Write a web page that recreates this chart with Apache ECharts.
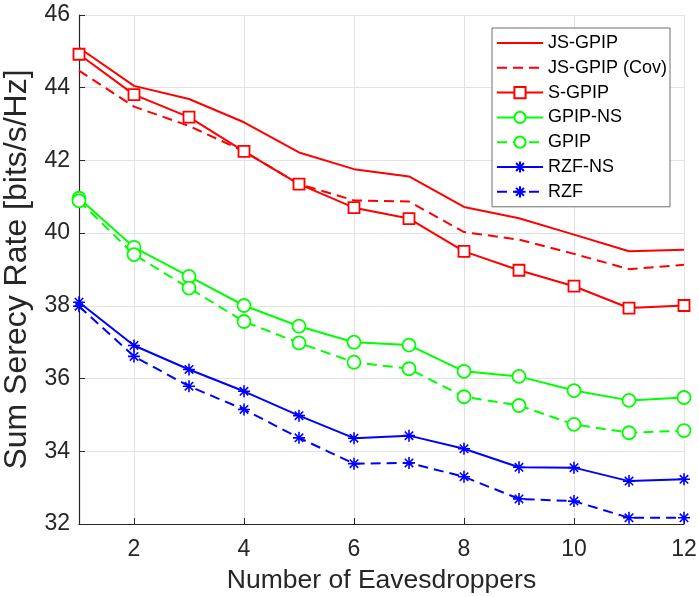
<!DOCTYPE html>
<html>
<head>
<meta charset="utf-8">
<script src="https://cdn.jsdelivr.net/npm/echarts@6/dist/echarts.min.js"></script>
<style>
  html, body { margin: 0; padding: 0; background: #fff; }
  #main { width: 699px; height: 597px; }
</style>
</head>
<body>
<div id="main"></div>
<script>
// number of eavesdroppers
const xValues = [1, 2, 3, 4, 5, 6, 7, 8, 9, 10, 11, 12]
const xTicks = [2, 4, 6, 8, 10, 12]

// sum secrecy rate
const jsGpip    = [45.10, 44.05, 43.69, 43.05, 42.22, 41.76, 41.56, 40.72, 40.41, 39.96, 39.50, 39.54]
const jsGpipCov = [44.47, 43.48, 42.95, 42.25, 41.35, 40.90, 40.87, 40.03, 39.82, 39.43, 39.01, 39.13]
const sGpip     = [44.92, 43.81, 43.19, 42.25, 41.35, 40.70, 40.40, 39.50, 38.98, 38.54, 37.94, 38.01]
const gpipNs    = [40.96, 39.61, 38.81, 38.01, 37.44, 37.00, 36.92, 36.20, 36.06, 35.67, 35.40, 35.48]
const gpip      = [40.89, 39.41, 38.49, 37.57, 36.98, 36.45, 36.27, 35.50, 35.26, 34.74, 34.51, 34.57]
const rzfNs     = [38.10, 36.91, 36.25, 35.65, 34.98, 34.36, 34.43, 34.07, 33.56, 33.55, 33.18, 33.23]
const rzf       = [37.99, 36.61, 35.79, 35.15, 34.37, 33.66, 33.68, 33.30, 32.69, 32.63, 32.17, 32.17]

const RED = '#ff0000'
const GREEN = '#00ff00'
const BLUE = '#0000ff'
const DASH = [10, 6]
const STAR = 'path://M0,-1L0,1M-1,0L1,0M-0.7,-0.7L0.7,0.7M-0.7,0.7L0.7,-0.7'

function pairs(ys) {
  return xValues.map((x, i) => [x, ys[i]])
}

function makeSeries(name, ys, color, dashed, symbol, size) {
  return {
    name: name,
    type: 'line',
    data: pairs(ys),
    symbol: symbol || 'none',
    symbolSize: size || 0,
    symbolKeepAspect: true,
    showSymbol: !!symbol,
    lineStyle: { color: color, width: 2, type: dashed ? DASH : 'solid' },
    itemStyle: {
      color: symbol === STAR ? color : '#fff',
      borderColor: color,
      borderWidth: symbol === STAR ? 1.6 : 1.8
    },
    emphasis: { disabled: true },
    animation: false
  }
}

const chart = echarts.init(document.getElementById('main'))

const option = {
  backgroundColor: '#ffffff',
  textStyle: { fontFamily: 'Liberation Sans, Arial, sans-serif' },
  grid: { left: 79, right: 15, top: 15, bottom: 73, outerBoundsMode: 'none' },
  legend: {
    orient: 'vertical',
    left: 492,
    top: 28,
    padding: [6, 3, 6, 4],
    itemWidth: 46,
    itemHeight: 14,
    itemGap: 6.8,
    backgroundColor: '#ffffff',
    borderColor: '#6e6e6e',
    borderWidth: 1,
    borderRadius: 0,
    textStyle: { fontSize: 18, color: '#000' },
    data: [
      // no markers on these two, hide the default legend symbol
      { name: 'JS-GPIP', itemStyle: { opacity: 0 } },
      { name: 'JS-GPIP (Cov)', itemStyle: { opacity: 0 } },
      'S-GPIP', 'GPIP-NS', 'GPIP', 'RZF-NS', 'RZF'
    ]
  },
  xAxis: {
    type: 'value',
    min: 1,
    max: 12,
    name: 'Number of Eavesdroppers',
    nameLocation: 'middle',
    nameGap: 43,
    nameTextStyle: { fontSize: 26.5, color: '#262626' },
    axisLine: { onZero: false, lineStyle: { color: '#262626', width: 1.2 } },
    axisTick: { inside: true, length: 6, customValues: xTicks, lineStyle: { color: '#262626' } },
    axisLabel: { customValues: xTicks, fontSize: 23, color: '#262626', margin: 14 },
    splitLine: { show: true, lineStyle: { color: '#e3e3e3', width: 1 } }
  },
  yAxis: {
    type: 'value',
    min: 32,
    max: 46,
    interval: 2,
    name: 'Sum Serecy Rate [bits/s/Hz]',
    nameLocation: 'middle',
    nameGap: 45,
    nameTextStyle: { fontSize: 32, color: '#262626' },
    axisLine: { show: true, lineStyle: { color: '#262626', width: 1.2 } },
    axisTick: { show: true, inside: true, length: 6, lineStyle: { color: '#262626' } },
    axisLabel: { fontSize: 23, color: '#262626', margin: 9 },
    splitLine: { show: true, lineStyle: { color: '#e3e3e3', width: 1 } }
  },
  series: [
    makeSeries('JS-GPIP', jsGpip, RED, false),
    makeSeries('JS-GPIP (Cov)', jsGpipCov, RED, true),
    makeSeries('S-GPIP', sGpip, RED, false, 'rect', 11),
    makeSeries('GPIP-NS', gpipNs, GREEN, false, 'circle', 13),
    makeSeries('GPIP', gpip, GREEN, true, 'circle', 13),
    makeSeries('RZF-NS', rzfNs, BLUE, false, STAR, 12),
    makeSeries('RZF', rzf, BLUE, true, STAR, 12)
  ]
}

chart.setOption(option)
</script>
</body>
</html>
